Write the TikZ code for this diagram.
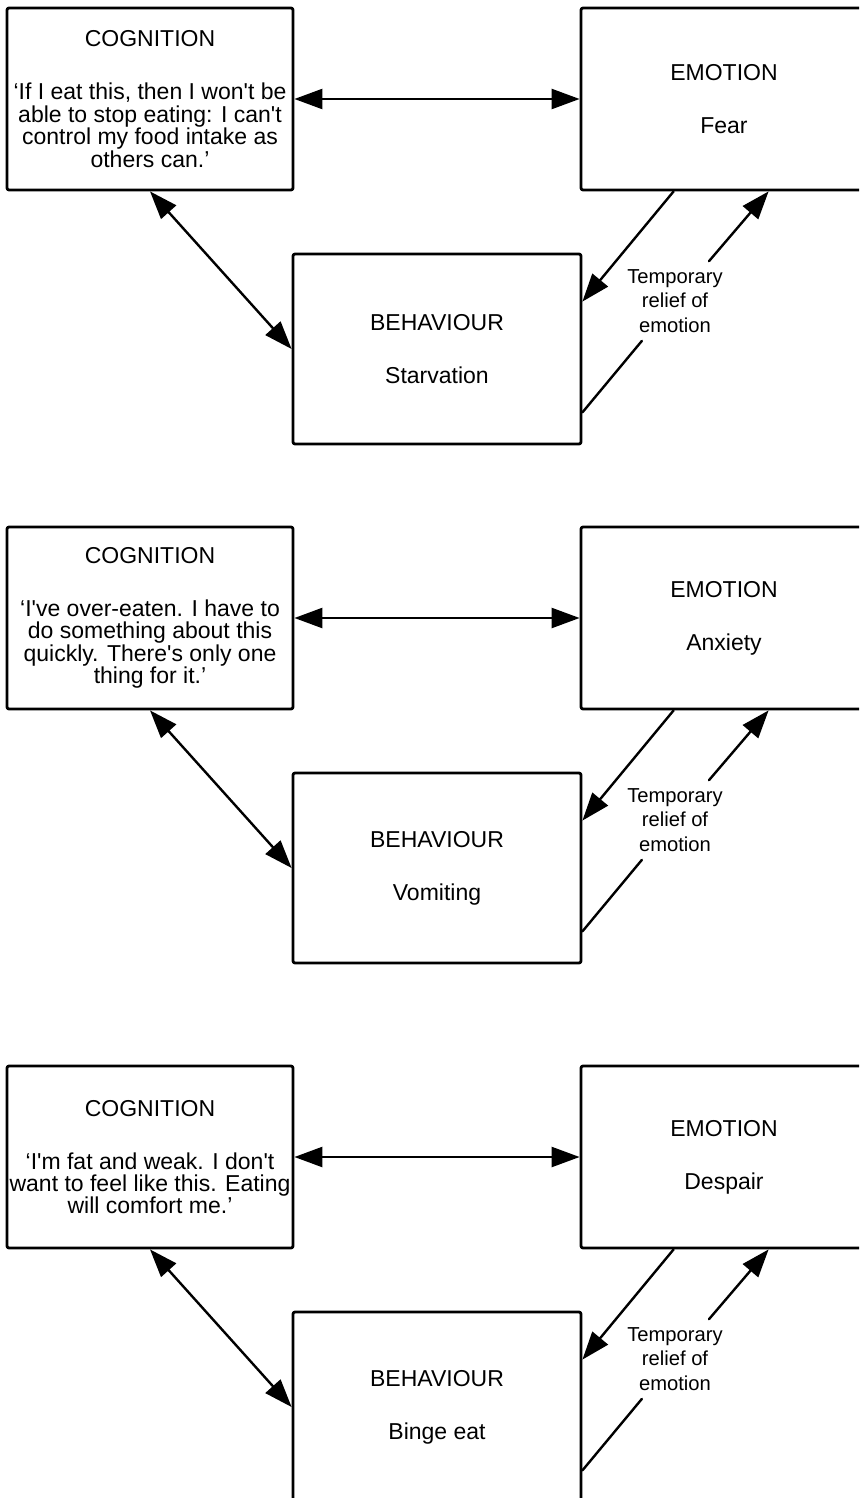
\documentclass[tikz,border=0pt]{standalone}
\usepackage{fontspec}
\newfontfamily\diagfont{Liberation Sans}
\usepackage{tikz}
\usetikzlibrary{arrows.meta}
\begin{document}
\begin{tikzpicture}[line cap=round,line join=round,>={Triangle[length=14pt,width=10pt]},x=0.5pt,y=-0.5pt,
  box/.style={draw,line width=1.4pt,rounded corners=1pt,align=center,inner sep=0pt,
    font=\diagfont\fontsize{11.5}{11.2}\selectfont},
  relief/.style={align=center,inner sep=4pt,font=\diagfont\fontsize{10.1}{12.2}\selectfont},
  link/.style={line width=1.2pt}]
\useasboundingbox (0,0) rectangle (859,1498);
\clip (0,0) rectangle (859,1498);
\foreach \p/\off/\cogtxt/\emotxt/\behtxt in {
  1/8/{‘If I eat this, then I won't be\\able to stop eating: I can't\\control my food intake as\\others can.’}/Fear/Starvation,
  2/527/{‘I've over-eaten. I have to\\do something about this\\quickly. There's only one\\thing for it.’}/Anxiety/Vomiting,
  3/1066/{‘I'm fat and weak. I don't\\want to feel like this. Eating\\will comfort me.’}/Despair/{Binge eat}}
{
\node[box,minimum width=143pt,minimum height=91pt] (cog\p) at (150,{\off+91}) {COGNITION\\[15.3pt]\cogtxt};
\node[box,minimum width=143pt,minimum height=91pt] (emo\p) at (724,{\off+91}) {EMOTION\\[15.3pt]\emotxt};
\node[box,minimum width=144pt,minimum height=95pt] (beh\p) at (437,{\off+341}) {BEHAVIOUR\\[15.3pt]\behtxt};
\node[relief] (rel\p) at (675,{\off+293}) {Temporary\\relief of\\emotion};
\draw[link,<->] (cog\p) -- (emo\p);
\draw[link,<->] (cog\p.south) -- (beh\p.west);
\draw[link,->] ([xshift=47pt]emo\p.south west) -- ([yshift=-24.5pt]beh\p.north east);
\draw[link] ([yshift=16.5pt]beh\p.south east) -- (rel\p);
\draw[link,->] (rel\p) -- ([xshift=94.5pt]emo\p.south west);
}
\end{tikzpicture}
\end{document}
